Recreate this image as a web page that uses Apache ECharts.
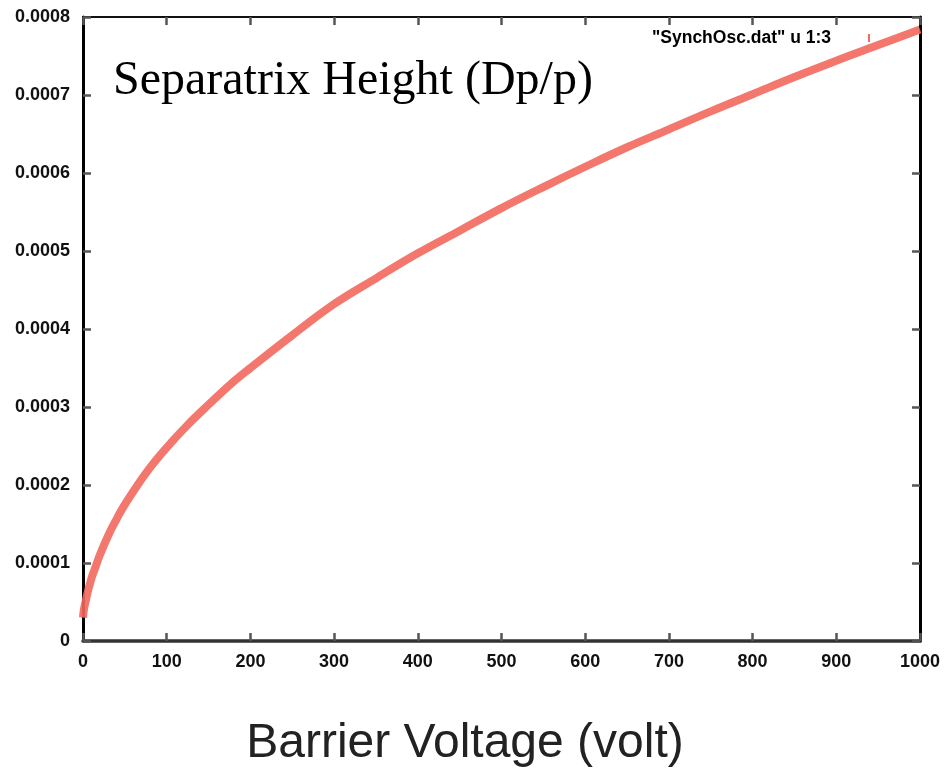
<!DOCTYPE html>
<html>
<head>
<meta charset="utf-8">
<script src="https://cdn.jsdelivr.net/npm/echarts@6/dist/echarts.min.js"></script>
<style>
html,body{margin:0;padding:0;background:#fff;}
#chart{width:945px;height:768px;}
</style>
</head>
<body>
<div id="chart"></div>
<script>
// Barrier voltage (volt)
var voltage = [0, 1, 3, 5, 10, 15, 20, 30, 40, 50, 75, 100, 125, 150, 175, 200, 250, 300, 350, 400, 450, 500, 550, 600, 650, 700, 750, 800, 850, 900, 950, 1000];
// Separatrix height (Dp/p)
var dpp = [0.00003, 0.00004, 0.00005, 0.00006, 0.00008, 0.000095, 0.00011, 0.000135, 0.000156, 0.000175, 0.000215, 0.000248, 0.000277, 0.000303, 0.000328, 0.00035, 0.000392, 0.000432, 0.000465, 0.000497, 0.000526, 0.000555, 0.000582, 0.000608, 0.000633, 0.000656, 0.000679, 0.000701, 0.000723, 0.000744, 0.000764, 0.000784];
var xTicks = [0, 100, 200, 300, 400, 500, 600, 700, 800, 900, 1000];
var yTicks = [0, 0.0001, 0.0002, 0.0003, 0.0004, 0.0005, 0.0006, 0.0007, 0.0008];
var seriesName = '"SynchOsc.dat" u 1:3';
var chartTitle = 'Separatrix Height (Dp/p)';
var xTitle = 'Barrier Voltage (volt)';

var points = voltage.map(function (v, i) { return [v, dpp[i]]; });
var chart = echarts.init(document.getElementById('chart'), null, {renderer: 'canvas'});

var tickStyle = {show: true, inside: true, length: 8, lineStyle: {color: '#555', width: 2.5}};
var labelFont = {fontFamily: 'Liberation Sans', fontWeight: 'bold', fontSize: 18, color: '#111'};

chart.setOption({
  animation: false,
  backgroundColor: '#fff',
  grid: {left: 83, right: 25, top: 17, bottom: 127, containLabel: false},
  legend: {
    data: [seriesName],
    right: 70, top: 24,
    align: 'right',
    icon: 'rect',
    itemWidth: 2, itemHeight: 8,
    textStyle: {fontFamily: 'Liberation Sans', fontWeight: 'bold', fontSize: 17.5, color: '#000', padding: [0, 32, 0, 0]}
  },
  xAxis: [{
    type: 'value', min: xTicks[0], max: xTicks[xTicks.length - 1], interval: 100,
    position: 'bottom',
    axisLine: {show: true, lineStyle: {color: '#333', width: 3.5}},
    axisTick: tickStyle,
    splitLine: {show: false},
    axisLabel: Object.assign({margin: 12, formatter: function (v) { return String(v); }}, labelFont)
  }, {
    type: 'value', min: xTicks[0], max: xTicks[xTicks.length - 1], interval: 100,
    position: 'top',
    axisLine: {show: true, onZero: false, lineStyle: {color: '#111', width: 2}},
    axisTick: tickStyle,
    splitLine: {show: false},
    axisLabel: {show: false}
  }],
  yAxis: [{
    type: 'value', min: yTicks[0], max: yTicks[yTicks.length - 1], interval: 0.0001,
    position: 'left',
    axisLine: {show: true, onZero: false, lineStyle: {color: '#000', width: 3}},
    axisTick: tickStyle,
    splitLine: {show: false},
    axisLabel: Object.assign({
      margin: 13,
      formatter: function (v) { return v === 0 ? '0' : v.toFixed(4); }
    }, labelFont)
  }, {
    type: 'value', min: yTicks[0], max: yTicks[yTicks.length - 1], interval: 0.0001,
    position: 'right',
    axisLine: {show: true, onZero: false, lineStyle: {color: '#000', width: 3}},
    axisTick: tickStyle,
    splitLine: {show: false},
    axisLabel: {show: false}
  }],
  series: [{
    name: seriesName,
    type: 'line',
    xAxisIndex: 0, yAxisIndex: 0,
    data: points,
    smooth: 0.4,
    showSymbol: false,
    symbol: 'none',
    itemStyle: {color: '#f26b60'},
    lineStyle: {color: '#f2685c', width: 8, opacity: 0.9}
  }],
  graphic: [{
    type: 'text', left: 113, top: 57,
    style: {text: chartTitle, font: '48px "Liberation Serif"', fill: '#000'}
  }, {
    type: 'text', x: 465, y: 744,
    style: {text: xTitle, font: '48px "Liberation Sans"', fill: '#222', textAlign: 'center', textVerticalAlign: 'middle'}
  }]
});
</script>
</body>
</html>
